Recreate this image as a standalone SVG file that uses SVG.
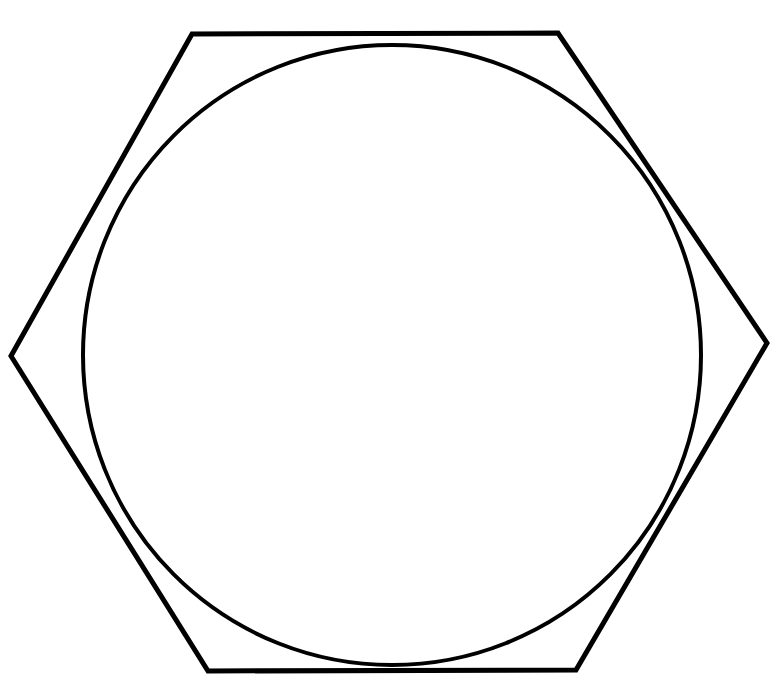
<svg xmlns="http://www.w3.org/2000/svg" width="770" height="685" viewBox="0 0 770 685">
<style>
.ln{fill:none;stroke:#000;stroke-linejoin:miter}
</style>
<rect width="770" height="685" fill="#fff"/>
<g id="hexagon"><polygon class="ln" stroke-width="5" points="192,34 558,33 767,343 576,670 208,671 11,356"/></g>
<g id="circle"><ellipse class="ln" stroke-width="4" cx="392" cy="355" rx="309" ry="310"/></g>
</svg>
